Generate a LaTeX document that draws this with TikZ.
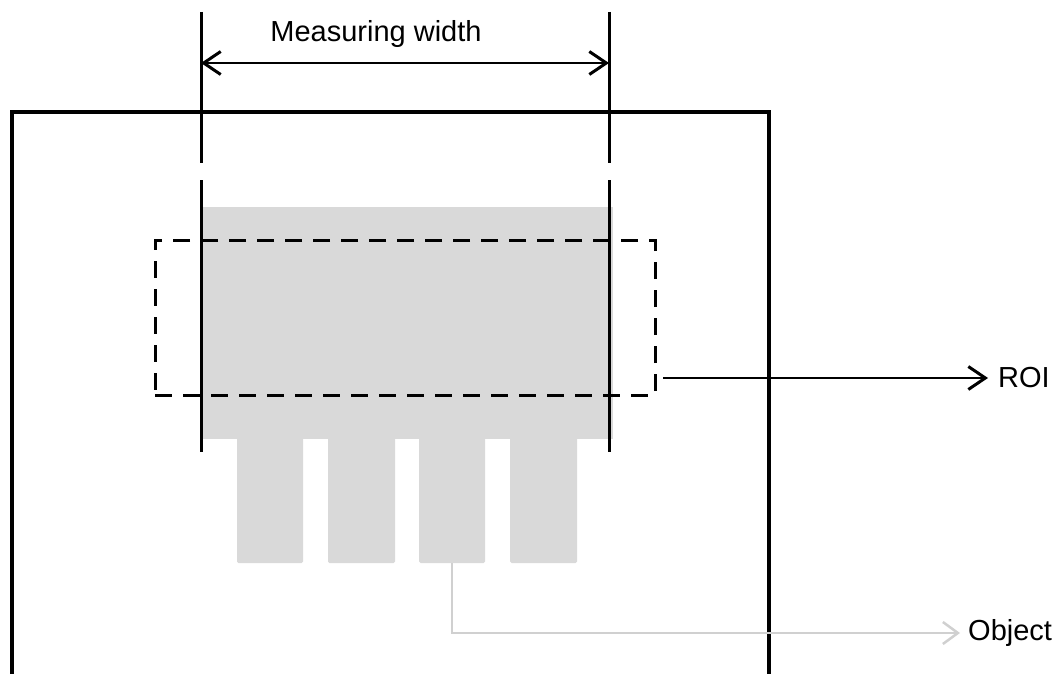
\documentclass[tikz,border=0pt]{standalone}
\usepackage{fontspec}
\setmainfont{Liberation Sans}
\usetikzlibrary{arrows.meta}

\definecolor{objgray}{HTML}{D9D9D9}
\definecolor{leadgray}{HTML}{D0D0D0}

\tikzset{
  barb/.style={-{Straight Barb[length=17pt,width=23pt,line width=3pt]}},
  label/.style={font=\fontsize{29}{34}\selectfont, inner sep=0pt},
  finger/.style={fill=objgray, rounded corners=1.5pt}
}

\begin{document}
\begin{tikzpicture}[x=1pt,y=-1pt]
        \useasboundingbox (0,0) rectangle (1057,674);
        % object body and fingers
        \fill[objgray] (201,207) rectangle (613,439);
        \foreach \xa/\xb [count=\i] in {237/303, 328/395, 419/485, 510/577}
          \fill[finger] (\xa,436) rectangle (\xb,563) coordinate (f\i);
        \coordinate (fout) at (452,563);

        % measuring lines
        \coordinate (ML) at (201,63);
        \coordinate (MR) at (609,63);
        \foreach \x in {201,609} {
          \draw[line width=3pt] (\x,12) -- (\x,163);
          \draw[line width=3pt] (\x,180) -- (\x,452);
        }
        \draw[line width=2.5pt, {Straight Barb[length=17pt,width=23pt,line width=3pt]}-{Straight Barb[length=17pt,width=23pt,line width=3pt]}] (ML) -- (MR);
        \node[label, anchor=base] (mw) at (376,42) {Measuring width};

        % frame
        \draw[line width=4pt, line join=miter] (12,680) -- (12,112) -- (769,112) -- (769,680);

        % ROI
        \node[draw, line width=3pt, dash pattern=on 17pt off 11pt, minimum width=500pt, minimum height=155pt, inner sep=0pt] (roi) at (405,317.5) {};
        \coordinate (roiout) at (663,378);
        \node[label, anchor=west] (roitext) at (998,378) {ROI};
        \draw[line width=2.5pt, barb] (roiout) -- ([xshift=-10pt]roitext.west);

        % Object
        \node[label, anchor=west] (objtext) at (968,633) {Object};
        \draw[leadgray, line width=2pt, -{Straight Barb[length=15pt,width=22pt,line width=2.5pt]}] (fout) |- ([xshift=-8pt]objtext.west);
\end{tikzpicture}
\end{document}
